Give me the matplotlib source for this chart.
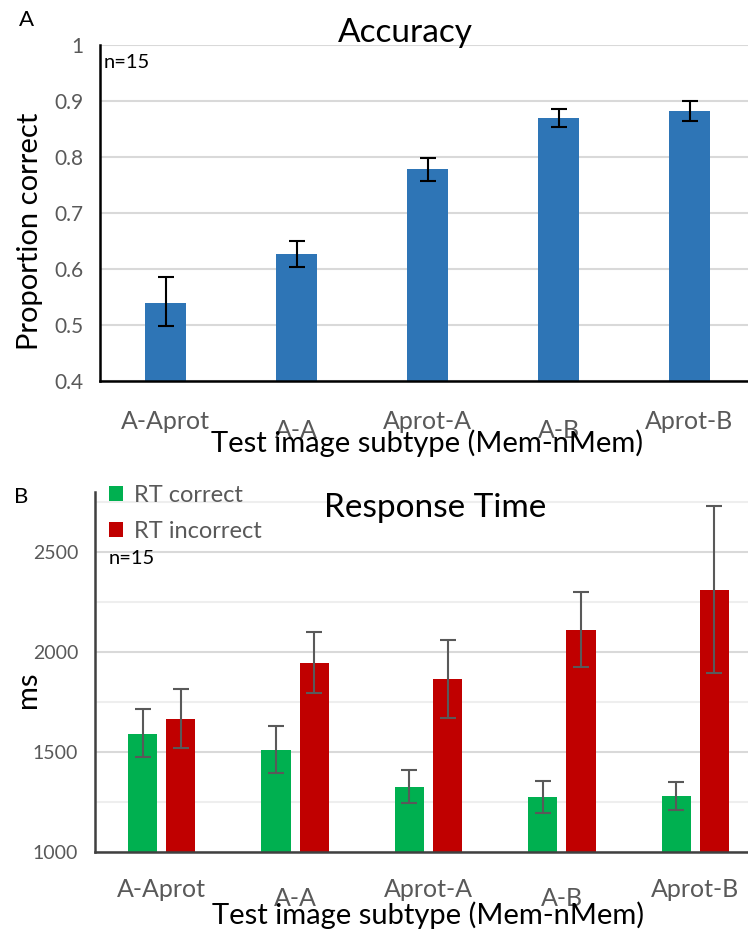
import matplotlib
matplotlib.use("Agg")
import matplotlib.pyplot as plt
import matplotlib.transforms as mtrans
import numpy as np

plt.rcParams['font.family'] = ['Lato', 'DejaVu Sans']

categories = ["A-Aprot", "A-A", "Aprot-A", "A-B", "Aprot-B"]

acc_mean = [0.540, 0.626, 0.778, 0.869, 0.882]
acc_hi = [0.585, 0.650, 0.799, 0.885, 0.900]
acc_lo = [0.498, 0.603, 0.757, 0.853, 0.864]

rt_correct = [1590, 1512, 1327, 1275, 1282]
rt_correct_hi = [1715, 1630, 1412, 1357, 1352]
rt_correct_lo = [1473, 1393, 1247, 1195, 1212]

rt_incorrect = [1665, 1947, 1867, 2112, 2312]
rt_incorrect_hi = [1815, 2100, 2060, 2300, 2732]
rt_incorrect_lo = [1522, 1797, 1670, 1927, 1897]

BLUE = "#2E75B6"
GREEN = "#00B050"
RED = "#C00000"
GRAY = "#595959"
GRID = "#D9D9D9"

W, H = 748, 930
fig = plt.figure(figsize=(W / 100, H / 100), dpi=100)

def px_axes(left, right, top, bottom):
    return fig.add_axes([left / W, 1 - bottom / H, (right - left) / W, (bottom - top) / H])

def style(ax, spine_color):
    for s in ("top", "right"):
        ax.spines[s].set_visible(False)
    for s in ("left", "bottom"):
        ax.spines[s].set_color(spine_color)
        ax.spines[s].set_linewidth(1.8)
    ax.set_axisbelow(True)
    ax.tick_params(axis="both", length=0, colors=GRAY, labelsize=15)
    ax.tick_params(axis="y", pad=12)

def stagger(ax, dy_px):
    for i, lab in enumerate(ax.get_xticklabels()):
        if i % 2 == 1:
            off = mtrans.ScaledTranslation(0, -dy_px / 100, fig.dpi_scale_trans)
            lab.set_transform(lab.get_transform() + off)

x = np.arange(len(categories))

# ---------- Panel A ----------
axA = px_axes(100, 755, 45, 381)
style(axA, "black")
axA.bar(x, acc_mean, width=0.31, color=BLUE, zorder=2)
yerr = [np.array(acc_mean) - np.array(acc_lo), np.array(acc_hi) - np.array(acc_mean)]
axA.errorbar(x, acc_mean, yerr=yerr, fmt="none", ecolor="black", elinewidth=1.5,
             capsize=5.5, capthick=1.5, zorder=3)
axA.set_xlim(-0.5, len(categories) - 0.5)
axA.set_ylim(0.4, 1.0)
axA.set_yticks([0.4, 0.5, 0.6, 0.7, 0.8, 0.9, 1.0])
axA.set_yticklabels(["0.4", "0.5", "0.6", "0.7", "0.8", "0.9", "1"])
axA.yaxis.grid(True, color=GRID, linewidth=1.5)
axA.set_xticks(x)
axA.set_xticklabels(categories, fontsize=18)
axA.tick_params(axis="x", pad=21, colors=GRAY)
stagger(axA, 9)
axA.set_ylabel("Proportion correct", fontsize=21, color="black", va="center")
axA.yaxis.set_label_coords(-0.107, 0.445)
axA.set_xlabel("Test image subtype (Mem-nMem)", fontsize=21, color="black", va="center")
axA.xaxis.set_label_coords(0.5, -0.184)
fig.text(19 / W, 1 - 20 / H, "A", fontsize=16, va="center", ha="left")
fig.text(405 / W, 1 - 33 / H, "Accuracy", fontsize=24, va="center", ha="center")
fig.text(104 / W, 1 - 62 / H, "n=15", fontsize=14.5, va="center", ha="left")

# ---------- Panel B ----------
axB = px_axes(95, 762, 492, 852)
style(axB, "#404040")
bw = 0.22
off = 0.143
axB.bar(x - off, np.array(rt_correct) - 1000, bottom=1000, width=bw, color=GREEN, zorder=2,
        label="RT correct")
axB.bar(x + off, np.array(rt_incorrect) - 1000, bottom=1000, width=bw, color=RED, zorder=2,
        label="RT incorrect")
yc = [np.array(rt_correct) - np.array(rt_correct_lo), np.array(rt_correct_hi) - np.array(rt_correct)]
yi = [np.array(rt_incorrect) - np.array(rt_incorrect_lo), np.array(rt_incorrect_hi) - np.array(rt_incorrect)]
axB.errorbar(x - off, rt_correct, yerr=yc, fmt="none", ecolor=GRAY, elinewidth=1.5,
             capsize=5.5, capthick=1.5, zorder=3)
axB.errorbar(x + off, rt_incorrect, yerr=yi, fmt="none", ecolor=GRAY, elinewidth=1.5,
             capsize=5.5, capthick=1.5, zorder=3)
axB.set_xlim(-0.5, len(categories) - 0.5)
axB.set_ylim(1000, 2800)
axB.set_yticks([1000, 1500, 2000, 2500])
axB.set_yticks([1250, 1750, 2250, 2750], minor=True)
axB.yaxis.grid(True, which="major", color=GRID, linewidth=1.5)
axB.yaxis.grid(True, which="minor", color="#EEEEEE", linewidth=1.5)
axB.tick_params(axis="y", which="minor", length=0)
axB.tick_params(axis="y", labelsize=14)
axB.set_xticks(x)
axB.set_xticklabels(categories, fontsize=18)
axB.tick_params(axis="x", pad=19, colors=GRAY)
stagger(axB, 9)
axB.set_ylabel("ms", fontsize=21, color="black", va="center")
axB.yaxis.set_label_coords(-0.1, 0.45)
axB.set_xlabel("Test image subtype (Mem-nMem)", fontsize=21, color="black", va="center")
axB.xaxis.set_label_coords(0.5, -0.175)
leg = axB.legend(loc="upper left", bbox_to_anchor=(0.0, 1.058), frameon=False, fontsize=17,
                 handlelength=0.6, handleheight=0.6, handletextpad=0.45, labelspacing=0.62,
                 borderaxespad=0.2)
for t in leg.get_texts():
    t.set_color(GRAY)
fig.text(14 / W, 1 - 497 / H, "B", fontsize=16, va="center", ha="left")
fig.text(435 / W, 1 - 508 / H, "Response Time", fontsize=24, va="center", ha="center")
fig.text(109 / W, 1 - 559 / H, "n=15", fontsize=14.5, va="center", ha="left")

fig.savefig("out.png", dpi=100)
